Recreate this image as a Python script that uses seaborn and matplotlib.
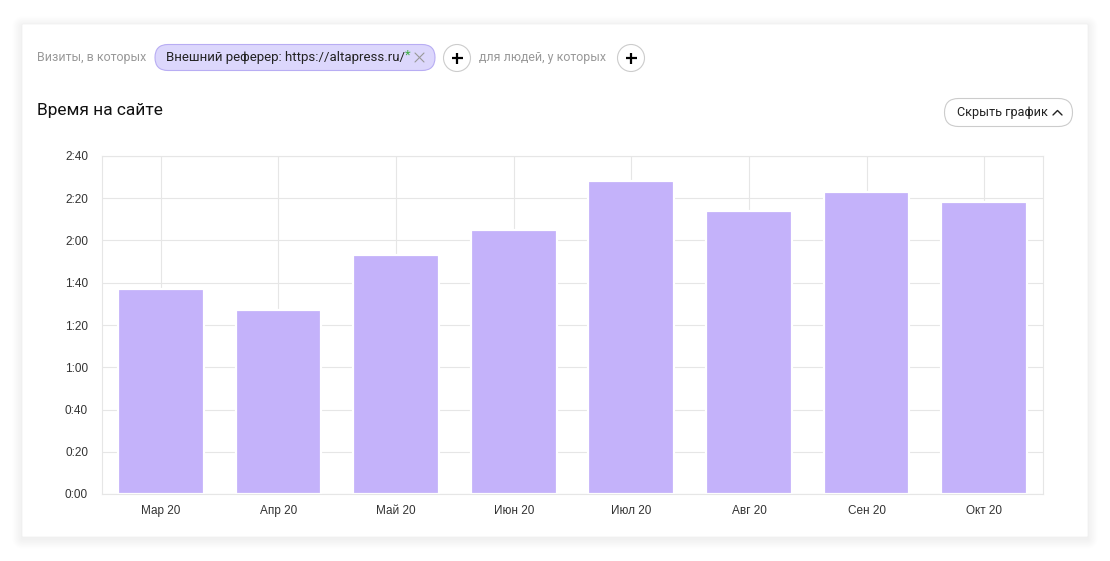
import matplotlib
matplotlib.use('Agg')
import matplotlib.pyplot as plt
from matplotlib.patches import FancyBboxPatch, Circle
from matplotlib.ticker import FuncFormatter, MultipleLocator
import seaborn as sns

# average time on site per month, seconds
months = ['Мар 20', 'Апр 20', 'Май 20', 'Июн 20', 'Июл 20', 'Авг 20', 'Сен 20', 'Окт 20']
seconds = [97, 87, 113, 125, 148, 134, 143, 138]

title = 'Время на сайте'
filter_prefix = 'Визиты, в которых'
filter_chip = 'Внешний реферер: https://altapress.ru/'
filter_people = 'для людей, у которых'
hide_button = 'Скрыть график'

bar_color = '#c4b2fa'
grid_color = '#e6e6e6'

sns.set_theme(style='white')
plt.rcParams['font.family'] = ['Roboto', 'DejaVu Sans']

W, H = 1110, 561
fig = plt.figure(figsize=(W / 100, H / 100), dpi=100)
fig.patch.set_facecolor('white')

# overlay in pixel units for the card and the header widgets
ov = fig.add_axes([0, 0, 1, 1], zorder=0)
ov.set_xlim(0, W)
ov.set_ylim(H, 0)
ov.axis('off')

# card with soft shadow
for i in range(14, 0, -1):
    ov.add_patch(FancyBboxPatch((22 - i * 0.7, 24 - i * 0.7 + 2), 1066 + 1.4 * i, 513 + 1.4 * i,
                                boxstyle='round,pad=0,rounding_size=%.1f' % (i * 0.7 + 1),
                                fc='black', ec='none', alpha=0.005))
ov.add_patch(FancyBboxPatch((22, 24), 1066, 513, boxstyle='round,pad=0,rounding_size=1',
                            fc='white', ec='#f0f0f0', lw=0.5))

# header row
ov.text(37, 57.5, filter_prefix, fontsize=8.9, color='#999999', va='center', ha='left')
ov.add_patch(FancyBboxPatch((155, 44.5), 280, 26, boxstyle='round,pad=0,rounding_size=13',
                            fc='#dcd7fc', ec='#b8adf3', lw=0.8))
ov.text(166, 57.5, filter_chip, fontsize=9.5, color='#222222', va='center', ha='left')
ov.text(404.5, 55.5, '*', fontsize=9.5, color='#3cb043', va='center', ha='left')
ov.plot([415, 424], [53, 62], color='#999999', lw=0.8)
ov.plot([415, 424], [62, 53], color='#999999', lw=0.8)
for cx in [457, 631]:
    ov.add_patch(Circle((cx, 58), 13.5, fc='white', ec='#cccccc', lw=0.8))
    ov.plot([cx - 5.5, cx + 5.5], [58, 58], color='black', lw=1.6, solid_capstyle='butt')
    ov.plot([cx, cx], [52.5, 63.5], color='black', lw=1.6, solid_capstyle='butt')
ov.text(479, 57.5, filter_people, fontsize=8.9, color='#999999', va='center', ha='left')

ov.text(37, 110, title, fontsize=12.5, color='#111111', va='center', ha='left')

ov.add_patch(FancyBboxPatch((944.5, 98.5), 128, 28, boxstyle='round,pad=0,rounding_size=14',
                            fc='white', ec='#cccccc', lw=0.8))
ov.text(957, 112.5, hide_button, fontsize=9.1, color='#222222', va='center', ha='left')
ov.plot([1053, 1057.5, 1062], [115, 110.5, 115], color='#222222', lw=1.0)

# main chart
left, right, top, bottom = 102, 1043, 156, 494
ax = fig.add_axes([left / W, (H - bottom) / H, (right - left) / W, (bottom - top) / H], zorder=2)
ax.set_facecolor('white')
ax.set_axisbelow(True)

sns.barplot(x=months, y=seconds, color=bar_color, saturation=1, width=0.73,
            edgecolor='white', linewidth=1.6, ax=ax)

ax.grid(True, axis='both', color=grid_color, lw=0.8)
ax.set_xlim(-0.5, len(months) - 0.5)
ax.set_ylim(0, 160)
ax.yaxis.set_major_locator(MultipleLocator(20))
ax.yaxis.set_major_formatter(FuncFormatter(lambda v, p: '%d:%02d' % (int(v) // 60, int(v) % 60)))
ax.set_xlabel('')
ax.set_ylabel('')
for s in ax.spines.values():
    s.set_color(grid_color)
    s.set_linewidth(0.8)
ax.tick_params(axis='y', length=0, pad=10, labelsize=8.5, labelcolor='#333333')
ax.tick_params(axis='x', length=0, pad=8, labelsize=8.5, labelcolor='#333333')
for lab in ax.get_xticklabels() + ax.get_yticklabels():
    lab.set_fontfamily(['Liberation Sans', 'DejaVu Sans'])

fig.savefig('out.png', dpi=100)
